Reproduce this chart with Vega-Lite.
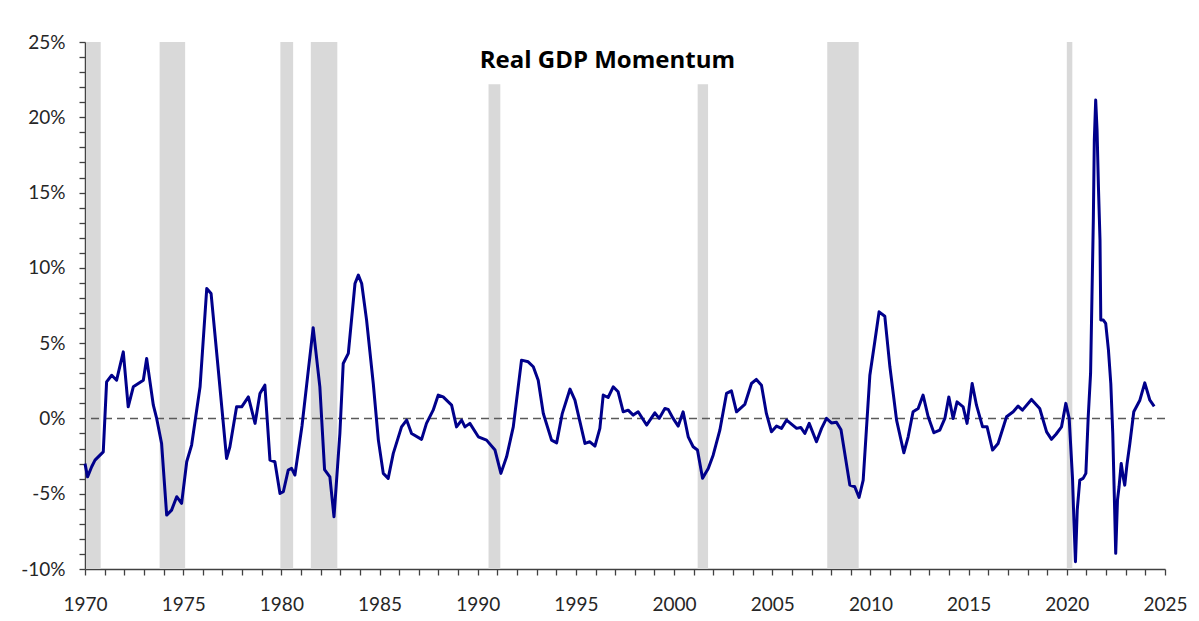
{
  "$schema": "https://vega.github.io/schema/vega-lite/v6.json",
  "autosize": "none",
  "width": 1080,
  "height": 527,
  "padding": {"left": 85, "top": 42, "right": 34, "bottom": 52},
  "background": "#ffffff",
  "config": {
    "view": {"stroke": null},
    "axis": {"labelFont": "Lato", "labelFontSize": 19, "labelColor": "#262626", "domainColor": "#404040", "tickColor": "#404040", "domainWidth": 1.5, "tickWidth": 1.3, "grid": false, "title": null}
  },
  "datasets": {
    "recessions": [
      {"start": 1970.05, "end": 1970.8},
      {"start": 1973.8, "end": 1975.1},
      {"start": 1979.95, "end": 1980.6},
      {"start": 1981.5, "end": 1982.85},
      {"start": 1990.55, "end": 1991.15},
      {"start": 2001.2, "end": 2001.73},
      {"start": 2007.8, "end": 2009.4},
      {"start": 2020.0, "end": 2020.28}
    ],
    "gdp": [
      {"date": 1970.0, "momentum": -3.0},
      {"date": 1970.13, "momentum": -3.88},
      {"date": 1970.34, "momentum": -3.21},
      {"date": 1970.51, "momentum": -2.77},
      {"date": 1970.93, "momentum": -2.22},
      {"date": 1971.1, "momentum": 2.43},
      {"date": 1971.36, "momentum": 2.87},
      {"date": 1971.61, "momentum": 2.54},
      {"date": 1971.95, "momentum": 4.42},
      {"date": 1972.2, "momentum": 0.77},
      {"date": 1972.46, "momentum": 2.1},
      {"date": 1972.97, "momentum": 2.54},
      {"date": 1973.14, "momentum": 3.98},
      {"date": 1973.48, "momentum": 0.88},
      {"date": 1973.65, "momentum": 0.0},
      {"date": 1973.9, "momentum": -1.66},
      {"date": 1974.16, "momentum": -6.42},
      {"date": 1974.41, "momentum": -6.09},
      {"date": 1974.67, "momentum": -5.2},
      {"date": 1974.92, "momentum": -5.64},
      {"date": 1975.18, "momentum": -2.88},
      {"date": 1975.43, "momentum": -1.77},
      {"date": 1975.86, "momentum": 2.1},
      {"date": 1976.2, "momentum": 8.63},
      {"date": 1976.42, "momentum": 8.3},
      {"date": 1976.79, "momentum": 3.2},
      {"date": 1977.21, "momentum": -2.66},
      {"date": 1977.38, "momentum": -1.88},
      {"date": 1977.72, "momentum": 0.77},
      {"date": 1977.98, "momentum": 0.77},
      {"date": 1978.32, "momentum": 1.43},
      {"date": 1978.66, "momentum": -0.33},
      {"date": 1978.91, "momentum": 1.66},
      {"date": 1979.16, "momentum": 2.21},
      {"date": 1979.42, "momentum": -2.77},
      {"date": 1979.67, "momentum": -2.88},
      {"date": 1979.93, "momentum": -4.98},
      {"date": 1980.1, "momentum": -4.87},
      {"date": 1980.35, "momentum": -3.43},
      {"date": 1980.52, "momentum": -3.32},
      {"date": 1980.69, "momentum": -3.76},
      {"date": 1981.05, "momentum": -0.5},
      {"date": 1981.62, "momentum": 6.03},
      {"date": 1981.96, "momentum": 2.1},
      {"date": 1982.2, "momentum": -3.4},
      {"date": 1982.47, "momentum": -3.88},
      {"date": 1982.68, "momentum": -6.53},
      {"date": 1982.98, "momentum": -1.0},
      {"date": 1983.15, "momentum": 3.65},
      {"date": 1983.41, "momentum": 4.32},
      {"date": 1983.75, "momentum": 8.96},
      {"date": 1983.92, "momentum": 9.52},
      {"date": 1984.09, "momentum": 8.96},
      {"date": 1984.34, "momentum": 6.53},
      {"date": 1984.68, "momentum": 2.32},
      {"date": 1984.94, "momentum": -1.44},
      {"date": 1985.19, "momentum": -3.65},
      {"date": 1985.44, "momentum": -3.98},
      {"date": 1985.7, "momentum": -2.32},
      {"date": 1986.12, "momentum": -0.56},
      {"date": 1986.38, "momentum": -0.11},
      {"date": 1986.63, "momentum": -1.0},
      {"date": 1987.14, "momentum": -1.39},
      {"date": 1987.39, "momentum": -0.33},
      {"date": 1987.73, "momentum": 0.55},
      {"date": 1987.99, "momentum": 1.55},
      {"date": 1988.24, "momentum": 1.43},
      {"date": 1988.67, "momentum": 0.88},
      {"date": 1988.92, "momentum": -0.56},
      {"date": 1989.18, "momentum": -0.11},
      {"date": 1989.35, "momentum": -0.56},
      {"date": 1989.6, "momentum": -0.33},
      {"date": 1990.03, "momentum": -1.22},
      {"date": 1990.45, "momentum": -1.44},
      {"date": 1990.88, "momentum": -2.1},
      {"date": 1991.18, "momentum": -3.65},
      {"date": 1991.47, "momentum": -2.55},
      {"date": 1991.81, "momentum": -0.56},
      {"date": 1992.23, "momentum": 3.87},
      {"date": 1992.57, "momentum": 3.76},
      {"date": 1992.83, "momentum": 3.43},
      {"date": 1993.08, "momentum": 2.54},
      {"date": 1993.34, "momentum": 0.33},
      {"date": 1993.76, "momentum": -1.44},
      {"date": 1994.02, "momentum": -1.62},
      {"date": 1994.3, "momentum": 0.3},
      {"date": 1994.7, "momentum": 1.95},
      {"date": 1994.95, "momentum": 1.21},
      {"date": 1995.46, "momentum": -1.66},
      {"date": 1995.71, "momentum": -1.55},
      {"date": 1995.97, "momentum": -1.84},
      {"date": 1996.22, "momentum": -0.66},
      {"date": 1996.39, "momentum": 1.55},
      {"date": 1996.64, "momentum": 1.39},
      {"date": 1996.9, "momentum": 2.1},
      {"date": 1997.15, "momentum": 1.77},
      {"date": 1997.41, "momentum": 0.44},
      {"date": 1997.66, "momentum": 0.55},
      {"date": 1997.92, "momentum": 0.22},
      {"date": 1998.17, "momentum": 0.44},
      {"date": 1998.6, "momentum": -0.44},
      {"date": 1999.02, "momentum": 0.37},
      {"date": 1999.24, "momentum": 0.0},
      {"date": 1999.53, "momentum": 0.66},
      {"date": 1999.7, "momentum": 0.6},
      {"date": 1999.95, "momentum": 0.0},
      {"date": 2000.21, "momentum": -0.51},
      {"date": 2000.46, "momentum": 0.44},
      {"date": 2000.72, "momentum": -1.22},
      {"date": 2000.97, "momentum": -1.88},
      {"date": 2001.19, "momentum": -2.1},
      {"date": 2001.45, "momentum": -3.98},
      {"date": 2001.74, "momentum": -3.32},
      {"date": 2001.99, "momentum": -2.44},
      {"date": 2002.33, "momentum": -0.78},
      {"date": 2002.67, "momentum": 1.66},
      {"date": 2002.92, "momentum": 1.83},
      {"date": 2003.18, "momentum": 0.44},
      {"date": 2003.6, "momentum": 0.93},
      {"date": 2003.94, "momentum": 2.32},
      {"date": 2004.19, "momentum": 2.59},
      {"date": 2004.45, "momentum": 2.21},
      {"date": 2004.7, "momentum": 0.33},
      {"date": 2004.96, "momentum": -0.89},
      {"date": 2005.22, "momentum": -0.51},
      {"date": 2005.47, "momentum": -0.66},
      {"date": 2005.73, "momentum": -0.11},
      {"date": 2006.24, "momentum": -0.66},
      {"date": 2006.45, "momentum": -0.6},
      {"date": 2006.66, "momentum": -1.0},
      {"date": 2006.88, "momentum": -0.33},
      {"date": 2007.25, "momentum": -1.55},
      {"date": 2007.51, "momentum": -0.66},
      {"date": 2007.76, "momentum": 0.0},
      {"date": 2008.01, "momentum": -0.3},
      {"date": 2008.27, "momentum": -0.25},
      {"date": 2008.5, "momentum": -0.75},
      {"date": 2008.95, "momentum": -4.43},
      {"date": 2009.2, "momentum": -4.54},
      {"date": 2009.42, "momentum": -5.25},
      {"date": 2009.63, "momentum": -4.1},
      {"date": 2009.97, "momentum": 2.87},
      {"date": 2010.22, "momentum": 5.09},
      {"date": 2010.44, "momentum": 7.08},
      {"date": 2010.73, "momentum": 6.79},
      {"date": 2010.99, "momentum": 3.43},
      {"date": 2011.33, "momentum": -0.11},
      {"date": 2011.7, "momentum": -2.28},
      {"date": 2011.92, "momentum": -1.22},
      {"date": 2012.17, "momentum": 0.44},
      {"date": 2012.43, "momentum": 0.66},
      {"date": 2012.68, "momentum": 1.55},
      {"date": 2012.94, "momentum": 0.11},
      {"date": 2013.23, "momentum": -0.95},
      {"date": 2013.53, "momentum": -0.78},
      {"date": 2013.79, "momentum": 0.0},
      {"date": 2013.99, "momentum": 1.43},
      {"date": 2014.21, "momentum": 0.0},
      {"date": 2014.41, "momentum": 1.1},
      {"date": 2014.72, "momentum": 0.77},
      {"date": 2014.92, "momentum": -0.33},
      {"date": 2015.18, "momentum": 2.32},
      {"date": 2015.4, "momentum": 0.88},
      {"date": 2015.71, "momentum": -0.56},
      {"date": 2015.94, "momentum": -0.56},
      {"date": 2016.22, "momentum": -2.1},
      {"date": 2016.5, "momentum": -1.66},
      {"date": 2016.93, "momentum": 0.11},
      {"date": 2017.27, "momentum": 0.44},
      {"date": 2017.52, "momentum": 0.82},
      {"date": 2017.74, "momentum": 0.55},
      {"date": 2018.2, "momentum": 1.26},
      {"date": 2018.62, "momentum": 0.66},
      {"date": 2018.97, "momentum": -0.89},
      {"date": 2019.22, "momentum": -1.39},
      {"date": 2019.45, "momentum": -1.05},
      {"date": 2019.73, "momentum": -0.56},
      {"date": 2019.95, "momentum": 1.0},
      {"date": 2020.12, "momentum": 0.0},
      {"date": 2020.29, "momentum": -3.98},
      {"date": 2020.36, "momentum": -6.75},
      {"date": 2020.44, "momentum": -9.52},
      {"date": 2020.53, "momentum": -6.09},
      {"date": 2020.66, "momentum": -4.1},
      {"date": 2020.83, "momentum": -3.98},
      {"date": 2020.97, "momentum": -3.65},
      {"date": 2021.09, "momentum": 0.11},
      {"date": 2021.21, "momentum": 2.99},
      {"date": 2021.28, "momentum": 8.07},
      {"date": 2021.35, "momentum": 13.17},
      {"date": 2021.4, "momentum": 18.48},
      {"date": 2021.47, "momentum": 21.14},
      {"date": 2021.54, "momentum": 19.14},
      {"date": 2021.61, "momentum": 15.38},
      {"date": 2021.69, "momentum": 11.84},
      {"date": 2021.73, "momentum": 6.53},
      {"date": 2021.86, "momentum": 6.53},
      {"date": 2021.98, "momentum": 6.31},
      {"date": 2022.12, "momentum": 4.54},
      {"date": 2022.24, "momentum": 2.32},
      {"date": 2022.34, "momentum": -1.0},
      {"date": 2022.42, "momentum": -5.21},
      {"date": 2022.49, "momentum": -8.96},
      {"date": 2022.58, "momentum": -5.42},
      {"date": 2022.66, "momentum": -4.54},
      {"date": 2022.77, "momentum": -2.99},
      {"date": 2022.87, "momentum": -3.88},
      {"date": 2022.95, "momentum": -4.43},
      {"date": 2023.07, "momentum": -2.99},
      {"date": 2023.21, "momentum": -1.66},
      {"date": 2023.41, "momentum": 0.44},
      {"date": 2023.72, "momentum": 1.21},
      {"date": 2023.97, "momentum": 2.36},
      {"date": 2024.23, "momentum": 1.21},
      {"date": 2024.45, "momentum": 0.8}
    ]
  },
  "layer": [
    {
      "data": {"name": "recessions"},
      "mark": {"type": "rect", "color": "#d9d9d9"},
      "encoding": {
        "x": {"field": "start", "type": "quantitative", "scale": {"domain": [1970, 2025], "nice": false, "zero": false},
          "axis": {"values": [1970,1971,1972,1973,1974,1975,1976,1977,1978,1979,1980,1981,1982,1983,1984,1985,1986,1987,1988,1989,1990,1991,1992,1993,1994,1995,1996,1997,1998,1999,2000,2001,2002,2003,2004,2005,2006,2007,2008,2009,2010,2011,2012,2013,2014,2015,2016,2017,2018,2019,2020,2021,2022,2023,2024,2025],
            "tickCount": 500,
            "labelExpr": "datum.value % 5 === 0 ? format(datum.value, 'd') : ''", "labelOverlap": false, "labelFlush": false, "labelBound": false, "tickSize": 6, "labelPadding": 20}},
        "x2": {"field": "end"}
      }
    },
    {
      "data": {"values": [{}]},
      "mark": {"type": "rect", "color": "#ffffff"},
      "encoding": {
        "x": {"datum": 1989.9, "type": "quantitative"},
        "x2": {"datum": 2003.4},
        "y": {"datum": 22.2, "type": "quantitative"},
        "y2": {"datum": 25}
      }
    },
    {
      "data": {"values": [{}]},
      "mark": {"type": "text", "text": "Real GDP Momentum", "font": "Open Sans", "fontSize": 24, "fontWeight": "bold", "color": "#000000", "align": "center", "baseline": "alphabetic"},
      "encoding": {
        "x": {"datum": 1996.6, "type": "quantitative"},
        "y": {"datum": 23.3, "type": "quantitative"}
      }
    },
    {
      "data": {"values": [{}]},
      "mark": {"type": "rule", "color": "#5a5a5a", "strokeDash": [8, 5], "strokeWidth": 1.5},
      "encoding": {
        "y": {"datum": 0, "type": "quantitative"}
      }
    },
    {
      "data": {"name": "gdp"},
      "mark": {"type": "line", "color": "#00008b", "strokeWidth": 3, "strokeJoin": "round"},
      "encoding": {
        "x": {"field": "date", "type": "quantitative"},
        "y": {"field": "momentum", "type": "quantitative", "scale": {"domain": [-10, 25], "nice": false, "zero": false},
          "axis": {"values": [-10,-9,-8,-7,-6,-5,-4,-3,-2,-1,0,1,2,3,4,5,6,7,8,9,10,11,12,13,14,15,16,17,18,19,20,21,22,23,24,25],
            "tickCount": 500,
            "labelExpr": "datum.value % 5 === 0 ? datum.value + '%' : ''", "labelOverlap": false, "labelFlush": false, "labelBound": false, "tickSize": 6, "labelPadding": 14,
            "encode": {"ticks": {"update": {"x": {"signal": "datum.value % 5 === 0 ? 6 : -2"}}}}}}
      }
    }
  ]
}
